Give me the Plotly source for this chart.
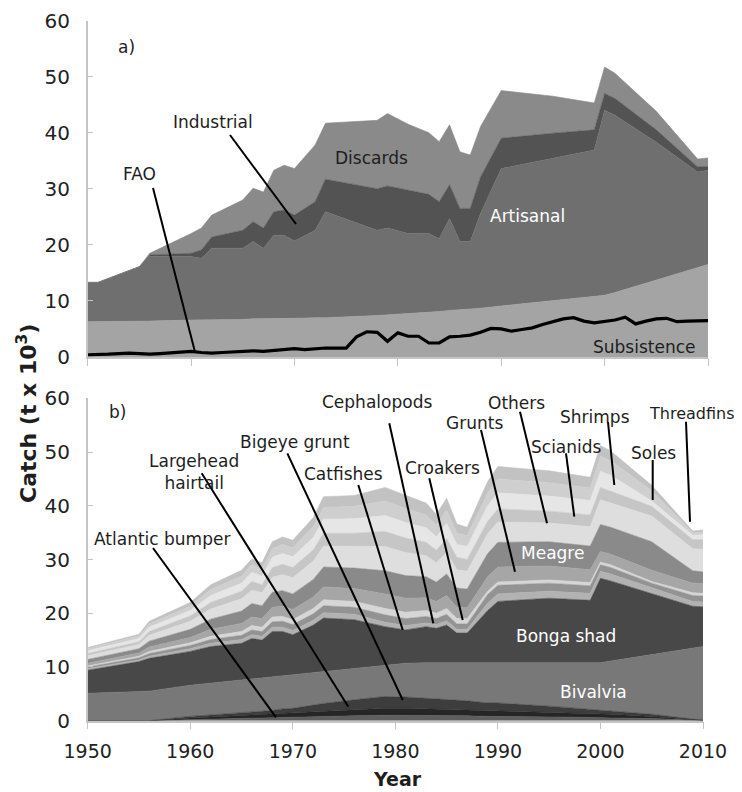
import plotly.graph_objects as go

# ---------------- Panel a data ----------------
years_a = [1950, 1951, 1955, 1956, 1960, 1961, 1962, 1965, 1966, 1967, 1968, 1969, 1970, 1972,
           1973, 1978, 1979, 1981, 1983, 1984, 1985, 1986, 1987, 1988, 1990, 1995, 1999, 2000,
           2001, 2005, 2009, 2010]
subsistence = [6.3, 6.3, 6.4, 6.4, 6.6, 6.6, 6.6, 6.7, 6.8, 6.8, 6.8, 6.9, 6.9, 7.0, 7.0, 7.4,
               7.5, 7.7, 7.9, 8.1, 8.3, 8.4, 8.5, 8.7, 9.1, 10.0, 10.8, 11.0, 11.5, 13.7, 15.9, 16.5]
artisanal = [7.0, 7.0, 9.7, 11.5, 11.3, 11.0, 12.8, 12.7, 13.8, 12.6, 14.9, 14.8, 13.8, 15.6, 18.9,
             15.2, 15.5, 14.3, 14.1, 13.0, 16.4, 12.2, 12.1, 16.9, 24.5, 25.5, 26.1, 33.0, 31.6,
             24.6, 17.1, 16.8]
industrial = [0, 0, 0, 0.3, 0.6, 1.5, 2.0, 3.2, 3.5, 3.6, 4.2, 4.5, 4.6, 5.1, 5.8, 7.4, 7.5, 7.8,
              7.0, 6.6, 6.0, 5.9, 5.9, 6.5, 5.4, 4.4, 3.6, 3.0, 3.0, 2.2, 0.9, 0.6]
discards = [0, 0, 0, 0.3, 3.5, 3.9, 3.9, 5.4, 6.0, 6.4, 7.4, 8.0, 8.3, 10.1, 10.0, 12.2, 12.9, 11.7,
            11.0, 10.7, 10.7, 10.1, 9.5, 9.0, 8.5, 6.6, 4.8, 4.7, 4.5, 3.3, 1.4, 1.6]

fao_years = list(range(1950, 2011))
fao = [0.4, 0.4, 0.5, 0.6, 0.7, 0.6, 0.5, 0.6, 0.7, 0.8, 1.0, 0.8, 0.7, 0.8, 0.9, 1.0, 1.1, 1.0,
       1.2, 1.4, 1.5, 1.3, 1.5, 1.6, 1.6, 1.6, 3.6, 4.5, 4.4, 2.8, 4.3, 3.7, 3.7, 2.5, 2.5, 3.6,
       3.7, 3.9, 4.4, 5.1, 5.0, 4.6, 4.9, 5.2, 5.8, 6.3, 6.8, 7.0, 6.4, 6.1, 6.3, 6.6, 7.1, 5.9,
       6.4, 6.8, 6.9, 6.3, 6.4, 6.5, 6.5]

# ---------------- Panel b data ----------------
years_b = [1950, 1955, 1956, 1960, 1962, 1965, 1966, 1967, 1968, 1969, 1970, 1972, 1973, 1976,
           1979, 1981, 1983, 1984, 1985, 1986, 1987, 1989, 1990, 1995, 1999, 2000, 2001, 2005,
           2009, 2010]
atlantic_bumper = [0, 0, 0, 0.2, 0.3, 0.4, 0.4, 0.5, 0.5, 0.6, 0.6, 0.7, 0.8, 0.9, 1.0, 1.0, 1.0,
                   0.9, 0.9, 0.9, 0.9, 0.8, 0.8, 0.7, 0.6, 0.6, 0.5, 0.4, 0.1, 0.05]
largehead_hairtail = [0, 0, 0, 0.3, 0.4, 0.6, 0.6, 0.7, 0.7, 0.8, 0.8, 1.0, 1.0, 1.2, 1.3, 1.3,
                      1.2, 1.2, 1.2, 1.1, 1.1, 1.0, 1.0, 0.9, 0.7, 0.7, 0.7, 0.4, 0.1, 0.05]
bigeye_grunt = [0, 0, 0, 0.3, 0.4, 0.5, 0.6, 0.6, 0.7, 0.8, 0.9, 1.2, 1.4, 1.8, 2.2, 2.1, 2.0,
                1.9, 1.8, 1.8, 1.7, 1.5, 1.5, 1.1, 0.8, 0.7, 0.7, 0.4, 0.1, 0.05]
bivalvia = [5.1, 5.4, 5.5, 5.8, 5.9, 6.1, 6.2, 6.2, 6.3, 6.2, 6.3, 6.1, 6.0, 5.9, 5.9, 6.3, 6.6,
            6.8, 6.9, 7.0, 7.1, 7.6, 7.6, 8.2, 8.7, 8.8, 9.2, 11.1, 13.2, 13.65]
bonga_shad = [4.3, 5.6, 6.1, 6.3, 6.8, 6.8, 7.5, 7.0, 8.4, 8.2, 7.4, 8.8, 9.9, 9.0, 7.1, 6.2, 6.7,
              6.4, 7.0, 5.5, 5.5, 9.6, 11.3, 11.9, 11.6, 15.7, 14.9, 11.4, 7.8, 7.4]
catfishes = [0.3, 0.3, 0.4, 0.5, 0.6, 0.7, 0.7, 0.7, 0.8, 0.8, 0.8, 0.9, 1.0, 1.0, 0.8, 0.8, 0.7,
             0.7, 0.8, 0.7, 0.7, 1.4, 1.4, 1.3, 1.3, 1.3, 1.3, 1.0, 0.9, 0.9]
cephalopods = [0.3, 0.4, 0.5, 0.6, 0.7, 0.8, 0.9, 0.9, 1.0, 1.1, 1.1, 1.2, 1.3, 1.3, 1.4, 1.3, 1.2,
               1.1, 1.2, 1.0, 1.0, 1.6, 1.6, 1.5, 1.4, 1.2, 1.2, 0.9, 1.1, 1.1]
croakers = [0.2, 0.3, 0.4, 0.5, 0.6, 0.7, 0.8, 0.8, 0.9, 0.9, 0.9, 1.0, 1.1, 1.1, 1.2, 1.2, 1.1,
            1.0, 1.1, 1.0, 1.0, 0.6, 0.6, 0.6, 0.6, 0.5, 0.5, 0.3, 0.5, 0.5]
grunts = [0.5, 0.6, 0.8, 1.0, 1.3, 1.5, 1.6, 1.6, 1.8, 1.9, 1.9, 2.1, 2.4, 2.4, 2.7, 2.6, 2.4, 2.2,
          2.4, 2.1, 2.0, 2.7, 2.8, 2.6, 2.4, 2.0, 2.0, 2.1, 1.8, 1.8]
meagre = [0.7, 0.8, 1.1, 1.5, 1.9, 2.3, 2.5, 2.4, 2.8, 2.9, 2.9, 3.3, 3.7, 3.8, 4.3, 4.2, 3.9, 3.6,
          4.0, 3.6, 3.5, 4.3, 4.6, 4.5, 4.4, 5.0, 5.0, 5.3, 2.3, 2.2]
others = [0.7, 0.8, 1.1, 1.5, 1.9, 2.3, 2.5, 2.4, 2.8, 3.0, 3.0, 3.4, 3.9, 4.0, 4.5, 4.3, 3.9, 3.6,
          4.0, 3.4, 3.3, 3.7, 3.8, 3.5, 3.6, 4.6, 4.5, 4.8, 4.1, 4.2]
scianids = [0.4, 0.5, 0.7, 1.0, 1.2, 1.4, 1.6, 1.5, 1.8, 1.9, 1.9, 2.1, 2.4, 2.5, 2.8, 2.7, 2.5,
            2.3, 2.6, 2.3, 2.2, 2.3, 2.4, 2.2, 2.2, 2.3, 2.2, 1.8, 1.7, 1.8]
shrimps = [0.5, 0.6, 0.8, 1.0, 1.3, 1.5, 1.7, 1.6, 1.9, 2.0, 2.0, 2.3, 2.6, 2.7, 3.0, 2.9, 2.7, 2.5,
           2.8, 2.4, 2.4, 2.9, 3.0, 2.8, 2.7, 3.0, 3.0, 1.0, 0.8, 0.9]
soles = [0.4, 0.5, 0.6, 0.8, 1.1, 1.3, 1.4, 1.4, 1.6, 1.7, 1.7, 2.0, 2.2, 2.3, 2.7, 2.6, 2.4, 2.2,
         2.5, 2.1, 2.0, 2.4, 2.6, 2.5, 2.3, 2.8, 2.7, 1.9, 0.5, 0.5]
threadfins = [0.2, 0.3, 0.5, 0.7, 0.9, 1.1, 1.1, 1.1, 1.3, 1.4, 1.4, 1.7, 2.0, 2.0, 2.5, 2.4, 2.2,
              2.0, 2.2, 1.7, 1.6, 2.1, 2.3, 2.2, 2.0, 2.0, 1.8, 1.0, 0.3, 0.4]

x_ticks = [1950, 1960, 1970, 1980, 1990, 2000, 2010]
y_ticks = [0, 10, 20, 30, 40, 50, 60]

W, H = 742, 792
OFF = 8                      # page body margin in the browser
FW, FH = W - OFF, H - OFF    # figure size so it fits the window
FONT = "DejaVu Sans"

fig = go.Figure()

def add_area(x, y, color, group, xa, ya):
    fig.add_trace(go.Scatter(
        x=x, y=y, mode="lines", stackgroup=group, fillcolor=color,
        line=dict(width=0.6, color=color), xaxis=xa, yaxis=ya, hoverinfo="skip",
        showlegend=False))

# panel a stack
add_area(years_a, subsistence, "#a4a4a4", "a", "x", "y")
add_area(years_a, artisanal, "#6f6f6f", "a", "x", "y")
add_area(years_a, industrial, "#535353", "a", "x", "y")
add_area(years_a, discards, "#8a8a8a", "a", "x", "y")
fig.add_trace(go.Scatter(x=fao_years, y=fao, mode="lines", line=dict(color="black", width=3.2),
                         xaxis="x", yaxis="y", hoverinfo="skip", showlegend=False))

# panel b stack
layers_b = [
    (atlantic_bumper, "#5e5e5e"), (largehead_hairtail, "#262626"), (bigeye_grunt, "#3d3d3d"),
    (bivalvia, "#787878"), (bonga_shad, "#484848"), (catfishes, "#b2b2b2"),
    (cephalopods, "#939393"), (croakers, "#d6d6d6"), (grunts, "#a6a6a6"), (meagre, "#8a8a8a"),
    (others, "#dedede"), (scianids, "#c6c6c6"), (shrimps, "#e6e6e6"), (soles, "#cfcfcf"),
    (threadfins, "#c2c2c2"),
]
for vals, col in layers_b:
    add_area(years_b, vals, col, "b", "x2", "y2")

# convert window pixel positions to paper fractions
px = lambda v: (v - OFF) / FW
py = lambda v: 1 - (v - OFF) / FH

axis_col = "#c4c4c4"
common_x = dict(range=[1950, 2010], tickvals=x_ticks, ticks="outside", ticklen=7,
                tickcolor=axis_col, showline=True, linecolor=axis_col, linewidth=1.5,
                showgrid=False, zeroline=False, automargin=False,
                tickfont=dict(family=FONT, size=19, color="#222"))
common_y = dict(range=[0, 60], tickvals=y_ticks, ticks="inside", ticklen=6, tickcolor=axis_col,
                showline=True, linecolor=axis_col, linewidth=1.5, showgrid=False, zeroline=False,
                automargin=False, tickfont=dict(family=FONT, size=20, color="#222"),
                ticklabelstandoff=12)

fig.update_layout(
    width=FW, height=FH, margin=dict(l=0, r=0, t=0, b=0, autoexpand=False),
    paper_bgcolor="white", plot_bgcolor="white", showlegend=False,
    xaxis=dict(domain=[px(87.7), px(708)], anchor="y", showticklabels=False, **common_x),
    yaxis=dict(domain=[py(357), py(20.5)], anchor="x", **common_y),
    xaxis2=dict(domain=[px(87.7), px(703)], anchor="y2", showticklabels=True,
                ticklabelstandoff=6, **common_x),
    yaxis2=dict(domain=[py(720.7), py(398.3)], anchor="x2", **common_y),
)

def label(text, x, y, size=17, color="#1e1e1e", bold=False, angle=0, xanchor="center"):
    fig.add_annotation(text=("<b>%s</b>" % text) if bold else text, x=px(x), y=py(y),
                       xref="paper", yref="paper", showarrow=False, xanchor=xanchor,
                       yanchor="middle", textangle=angle,
                       font=dict(family=FONT, size=size, color=color))

def leader(x0, y0, x1, y1):
    fig.add_shape(type="line", xref="paper", yref="paper", x0=px(x0), y0=py(y0),
                  x1=px(x1), y1=py(y1), line=dict(color="black", width=2))

# panel a labels
label("a)", 126.7, 46.7)
label("Industrial", 213, 122)
leader(230, 135, 296, 224)
label("FAO", 139, 174)
leader(153, 188, 195, 352)
label("Discards", 371.7, 157.7)
label("Artisanal", 527.7, 216, color="white")
label("Subsistence", 644, 346.7)

# panel b labels
label("b)", 117, 411.7)
label("Atlantic bumper", 162, 539.3)
leader(153, 548, 276, 717.3)
label("Largehead<br>hairtail", 146.7, 472, xanchor="left")
leader(201.7, 473.3, 348.3, 706.7)
label("Bigeye grunt", 295, 441.7)
leader(287.3, 453.3, 402.7, 700)
label("Catfishes", 343, 474.3)
leader(358.3, 485, 402.7, 630)
label("Cephalopods", 377, 402)
leader(389.3, 423.3, 433.3, 623.3)
label("Croakers", 442.7, 467.7)
leader(429.3, 478.3, 462.7, 620)
label("Grunts", 474.3, 423.3)
leader(481, 430, 515, 571.7)
label("Others", 516, 402.7)
leader(520, 411.7, 547, 523.3)
label("Scianids", 566.7, 447.3)
leader(566, 453.3, 574.3, 516.7)
label("Shrimps", 595, 416.7)
leader(608, 422, 614.3, 485)
label("Soles", 653.7, 453.3)
leader(652.7, 460, 652.7, 500)
label("Threadfins", 692, 413.3, size=16)
leader(686, 421.7, 690, 521.7)
label("Meagre", 552.7, 553.3, color="white")
label("Bonga shad", 566, 636, color="white")
label("Bivalvia", 593.3, 691.7, color="white")

# axis titles
label("Year", 397, 779, size=19, bold=True)
label("Catch (t x 10<sup>3</sup>)", 27, 414, size=22, bold=True, angle=-90)

fig.write_html("out.html")
